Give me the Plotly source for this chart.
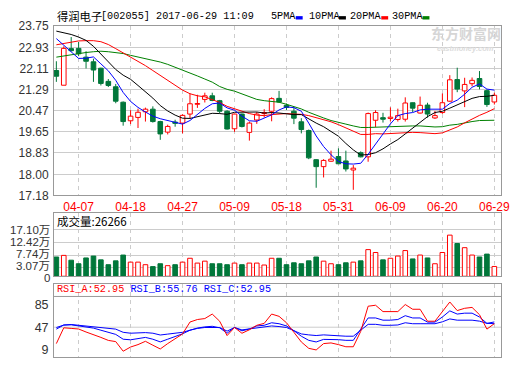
import plotly.graph_objects as go

# ---------------- data ----------------
tick_idx = [3, 10, 17, 24, 31, 38, 45, 52, 59]
tick_text = ["04-07", "04-18", "04-27", "05-09", "05-18", "05-31", "06-09", "06-20", "06-29"]

OPEN = [22.03, 21.46, 22.88, 22.89, 22.55, 22.37, 22.12, 21.61, 21.40, 20.80,
        20.08, 20.21, 20.43, 20.53, 20.05, 19.64, 20.03, 19.99, 20.34, 20.72,
        20.91, 21.05, 20.86, 20.45, 19.77, 20.34, 19.63, 20.11, 20.36, 20.45,
        20.95, 20.68, 20.45, 20.04, 19.70, 18.57, 18.30, 18.51, 18.69, 18.52,
        18.17, 18.84, 18.68, 20.10, 20.20, 20.17, 20.13, 20.14, 20.78, 20.38,
        20.69, 20.19, 20.40, 20.84, 21.68, 21.24, 21.52, 21.72, 21.25, 20.81]
HIGH = [22.39, 22.97, 23.33, 23.14, 22.78, 22.49, 22.14, 21.70, 21.51, 20.83,
        20.49, 20.55, 20.59, 20.64, 20.08, 19.93, 20.12, 20.33, 21.14, 21.09,
        21.17, 21.17, 20.89, 20.49, 20.36, 20.36, 20.05, 20.42, 20.53, 20.99,
        21.24, 20.75, 20.61, 20.18, 19.74, 18.59, 18.59, 18.92, 19.01, 18.92,
        18.36, 18.89, 20.40, 20.49, 20.39, 20.60, 20.55, 20.99, 20.79, 21.02,
        20.78, 20.46, 21.14, 21.85, 22.14, 21.75, 21.76, 22.01, 21.30, 21.17]
LOW = [21.59, 21.46, 22.77, 22.59, 22.11, 21.59, 21.45, 21.39, 20.76, 19.89,
       19.95, 19.80, 20.05, 20.01, 19.34, 19.55, 19.85, 19.59, 20.18, 20.58,
       20.79, 20.84, 20.36, 19.74, 19.65, 19.82, 19.31, 19.96, 20.21, 20.06,
       20.79, 20.50, 19.95, 19.59, 18.59, 17.48, 17.88, 18.49, 18.40, 18.11,
       17.40, 18.66, 18.49, 19.84, 20.01, 20.05, 20.05, 20.05, 20.42, 20.36,
       20.20, 20.15, 20.35, 20.82, 21.19, 20.61, 21.42, 21.30, 20.62, 20.71]
CLOSE = [21.81, 22.89, 22.80, 22.68, 22.39, 22.05, 21.53, 21.45, 20.84, 20.05,
         20.26, 20.41, 20.53, 20.05, 19.57, 19.86, 19.98, 20.29, 20.74, 20.75,
         21.05, 20.87, 20.45, 19.76, 20.34, 19.86, 19.99, 20.34, 20.40, 20.94,
         20.81, 20.60, 20.18, 19.74, 18.64, 18.30, 18.54, 18.59, 18.41, 18.21,
         18.24, 18.68, 20.36, 20.40, 20.14, 20.22, 20.28, 20.77, 20.57, 20.68,
         20.34, 20.28, 20.78, 21.67, 21.31, 21.49, 21.65, 21.41, 20.71, 21.07]

MA5 = [23.27, 23.02, 22.78, 22.50, 22.51, 22.56, 22.29, 22.02, 21.65, 21.18,
       20.83, 20.60, 20.42, 20.26, 20.16, 20.08, 20.00, 19.95, 20.09, 20.32,
       20.56, 20.74, 20.77, 20.58, 20.49, 20.26, 20.08, 20.06, 20.19, 20.31,
       20.50, 20.62, 20.59, 20.45, 19.99, 19.49, 19.08, 18.76, 18.50, 18.41,
       18.40, 18.43, 18.78, 19.18, 19.56, 19.96, 20.28, 20.36, 20.40, 20.50,
       20.53, 20.53, 20.53, 20.75, 20.88, 21.11, 21.38, 21.51, 21.31, 21.27]
MA10 = [23.56, 23.50, 23.43, 23.33, 23.20, 22.97, 22.68, 22.37, 22.07, 21.85,
        21.69, 21.45, 21.22, 20.96, 20.67, 20.46, 20.30, 20.18, 20.17, 20.24,
        20.32, 20.37, 20.36, 20.33, 20.41, 20.41, 20.41, 20.42, 20.38, 20.40,
        20.38, 20.35, 20.32, 20.32, 20.15, 19.99, 19.85, 19.67, 19.48, 19.20,
        18.95, 18.75, 18.77, 18.84, 18.99, 19.18, 19.35, 19.57, 19.79, 20.03,
        20.24, 20.40, 20.45, 20.57, 20.69, 20.82, 20.95, 21.02, 21.03, 21.07]
MA20 = [23.03, 23.08, 23.15, 23.18, 23.19, 23.19, 23.15, 23.04, 22.88, 22.72,
        22.57, 22.40, 22.22, 22.03, 21.84, 21.66, 21.47, 21.27, 21.13, 21.05,
        21.01, 20.91, 20.79, 20.64, 20.54, 20.43, 20.36, 20.30, 20.28, 20.32,
        20.35, 20.36, 20.34, 20.33, 20.28, 20.20, 20.13, 20.04, 19.93, 19.80,
        19.66, 19.55, 19.55, 19.58, 19.57, 19.59, 19.60, 19.62, 19.63, 19.62,
        19.59, 19.58, 19.61, 19.71, 19.84, 20.00, 20.15, 20.29, 20.41, 20.55]
MA30 = [22.55, 22.60, 22.65, 22.70, 22.73, 22.76, 22.78, 22.76, 22.73, 22.69,
        22.62, 22.56, 22.49, 22.43, 22.36, 22.27, 22.16, 22.07, 21.95, 21.82,
        21.70, 21.58, 21.41, 21.30, 21.23, 21.13, 21.02, 20.91, 20.86, 20.83,
        20.80, 20.72, 20.63, 20.54, 20.41, 20.29, 20.19, 20.09, 20.01, 19.95,
        19.88, 19.82, 19.82, 19.83, 19.85, 19.86, 19.87, 19.89, 19.88, 19.88,
        19.86, 19.84, 19.85, 19.91, 19.94, 20.00, 20.05, 20.09, 20.10, 20.10]

VOL = [7.08, 7.67, 5.90, 4.60, 6.73, 7.43, 6.02, 4.25, 5.66, 7.79,
       5.19, 5.19, 4.25, 3.54, 4.60, 3.89, 4.25, 5.19, 6.61, 4.84,
       5.55, 4.60, 4.60, 4.25, 4.84, 4.25, 4.84, 4.84, 4.13, 6.61,
       6.61, 4.25, 4.95, 4.60, 5.66, 7.08, 5.55, 4.60, 4.25, 4.95,
       5.19, 5.66, 9.79, 8.73, 6.02, 6.61, 7.43, 9.44, 6.37, 7.79,
       6.73, 4.60, 8.73, 15.11, 12.04, 10.50, 7.79, 7.08, 8.14, 3.60]

RSI_A = [19.7, 46, 45, 44, 39, 35, 30, 25, 23, 7, 14, 18, 23.5, 17, 10.7, 19.7, 27.8, 35.8,
         55.6, 59.8, 61.4, 68.9, 57, 33, 46.5, 36.9, 42.7, 50.2, 53.4, 68.9, 65.1, 54.4,
         38.5, 22.4, 11.8, 9.1, 19.7, 20.8, 18, 14.4, 14.4, 40, 82, 83.6, 73, 73, 73, 84.8,
         76.9, 76.9, 57, 57, 73, 89, 74.7, 78.5, 80, 67.8, 43.8, 52.95]
RSI_B = [43.8, 50.7, 51, 49.1, 48, 45.5, 42, 38.5, 35, 27, 26, 28, 30, 27, 22.5, 27, 31, 36,
         42, 45.5, 47.5, 48.5, 46, 37, 46.5, 41, 44, 49.1, 50.2, 54.4, 52.8, 49.1, 41.2, 32,
         25.1, 22.4, 26.7, 26.7, 26.2, 25.1, 25.1, 43.8, 62.4, 62.4, 58.7, 58.7, 59.8, 66.2,
         62.4, 62.4, 55.5, 55.5, 64, 74.2, 68.9, 70.4, 70.4, 64, 53.4, 55.76]
RSI_C = [46.5, 50.5, 51.5, 50.2, 49.5, 48.1, 46.5, 45, 43.8, 38.5, 37, 37.5, 38, 37, 34, 35.5,
         36.9, 38.5, 42, 45, 46.5, 47, 46.5, 40.5, 46.5, 42.5, 44, 44.9, 46.5, 49.1, 48.1, 46.5,
         41.2, 35.8, 34.2, 33.1, 34.2, 33.1, 33.1, 32, 32, 41.2, 51.8, 51.8, 50.2, 50.2, 50.7,
         54.4, 52.8, 52.8, 52.8, 52.8, 56, 60.8, 58.7, 58.7, 58.7, 57.1, 53.4, 52.95]

price_ticks = [17.18, 18.00, 18.83, 19.65, 20.47, 21.29, 22.11, 22.93, 23.75]
vol_ticks = [0, 3.07, 7.74, 12.42, 17.10]
vol_tick_text = ["0", "3.07万", "7.74万", "12.42万", "17.10万"]
rsi_ticks = [9, 47, 85]

ma_names = ["5PMA", "10PMA", "20PMA", "30PMA"]
ma_colors = ["#0000ff", "#000000", "#ff0000", "#008000"]

# ---------------- styling / layout helpers ----------------
W, H = 520, 365
RED = "#ff0000"
GRN = "#00773a"
GRID = "#cccccc"
FRAME = "#999999"


def py(p):
    return 1 - p / H


def pxf(p):
    return p / W


XR = [-0.31, 59.92]
XD = [pxf(55), pxf(510)]
idx = list(range(len(CLOSE)))
up = [c >= o for o, c in zip(OPEN, CLOSE)]

fig = go.Figure()

# wicks
for is_up, col in [(True, RED), (False, GRN)]:
    wx, wy = [], []
    for i in idx:
        if up[i] != is_up:
            continue
        top = max(OPEN[i], CLOSE[i])
        bot = min(OPEN[i], CLOSE[i])
        wx += [i, i, None, i, i, None]
        wy += [HIGH[i], top, None, bot, LOW[i], None]
    fig.add_trace(go.Scatter(x=wx, y=wy, mode="lines", line=dict(color=col, width=1),
                             hoverinfo="skip", xaxis="x", yaxis="y"))

# candle bodies
for is_up, fill, col in [(True, "white", RED), (False, GRN, GRN)]:
    xs = [i for i in idx if up[i] == is_up]
    fig.add_trace(go.Bar(
        x=xs,
        y=[max(abs(CLOSE[i] - OPEN[i]), 0.02) for i in xs],
        base=[min(OPEN[i], CLOSE[i]) for i in xs],
        width=0.62,
        marker=dict(color=fill, line=dict(color=col, width=1)),
        xaxis="x", yaxis="y"))

# moving averages (drawn 30 -> 5 so the short ones sit on top)
for ma, col in [(MA30, ma_colors[3]), (MA20, ma_colors[2]), (MA10, ma_colors[1]), (MA5, ma_colors[0])]:
    fig.add_trace(go.Scatter(x=idx, y=ma, mode="lines", line=dict(color=col, width=1),
                             xaxis="x", yaxis="y"))

# volume
for is_up, fill, col in [(True, "white", RED), (False, GRN, GRN)]:
    xs = [i for i in idx if up[i] == is_up]
    fig.add_trace(go.Bar(x=xs, y=[VOL[i] for i in xs], width=0.62,
                         marker=dict(color=fill, line=dict(color=col, width=1)),
                         xaxis="x2", yaxis="y2"))

# RSI
for r, col in [(RSI_C, "#0000ff"), (RSI_B, "#0000ff"), (RSI_A, RED)]:
    fig.add_trace(go.Scatter(x=idx, y=r, mode="lines", line=dict(color=col, width=1),
                             xaxis="x3", yaxis="y3"))

tickfont = dict(family="Liberation Sans, Noto Sans CJK SC", size=12, color="#333333")


def xax(anchor, labels):
    return dict(domain=XD, range=XR, anchor=anchor, tickvals=tick_idx, ticktext=tick_text,
                showticklabels=labels, tickfont=dict(family="Liberation Sans", size=12, color=RED),
                showgrid=True, gridcolor=GRID, gridwidth=1, griddash="4px,4px",
                showline=True, linecolor=FRAME, linewidth=1, mirror=True,
                zeroline=False, ticks="", fixedrange=True)


fig.update_layout(
    width=W, height=H, margin=dict(l=0, r=0, t=0, b=0),
    paper_bgcolor="white", plot_bgcolor="white",
    showlegend=False, barmode="overlay", bargap=0,
    xaxis=xax("y", True),
    xaxis2=xax("y2", False),
    xaxis3=xax("y3", False),
    yaxis=dict(domain=[py(196), py(20)], range=[17.18, 23.75], anchor="x",
               tickvals=price_ticks, ticktext=["%.2f" % v for v in price_ticks],
               tickfont=tickfont, showgrid=True, gridcolor=GRID, gridwidth=1,
               showline=True, linecolor=FRAME, linewidth=1, mirror=True,
               zeroline=False, ticks="", ticklabelstandoff=2, fixedrange=True),
    yaxis2=dict(domain=[py(280), py(214)], range=[0, 23.32], anchor="x2",
                tickvals=vol_ticks, showticklabels=False,
                showgrid=True, gridcolor=GRID, gridwidth=1,
                showline=True, linecolor=FRAME, linewidth=1, mirror=True,
                zeroline=False, ticks="", fixedrange=True),
    yaxis3=dict(domain=[py(364), py(288)], range=[-2.72, 119.07], anchor="x3",
                tickvals=rsi_ticks, ticktext=[str(v) for v in rsi_ticks],
                tickfont=dict(family="Liberation Sans", size=12.5, color="#333333"),
                showgrid=False,
                showline=True, linecolor=FRAME, linewidth=1, mirror=True,
                zeroline=False, ticks="", ticklabelstandoff=2, fixedrange=True),
)

# RSI header separator and 47 grid line
fig.add_shape(type="line", xref="paper", yref="paper", x0=XD[0], x1=XD[1], y0=py(301), y1=py(301),
              line=dict(color=FRAME, width=1))
fig.add_shape(type="line", xref="x3 domain", yref="y3", x0=0, x1=1, y0=47, y1=47,
              line=dict(color=GRID, width=1), layer="below")

# volume axis labels (placed as in the reference, tighter than the value scale)
vol_label_px = [282, 269.5, 257, 244.5, 231.5]
for txt, p in zip(vol_tick_text, vol_label_px):
    fig.add_annotation(x=pxf(53), y=py(p), text=txt, xref="paper", yref="paper", showarrow=False,
                       xanchor="right", yanchor="middle",
                       font=dict(family="Liberation Sans, Noto Sans CJK SC", size=11.5, color="#333333"))

mono = "Liberation Mono, DejaVu Sans Mono"
ann = dict(xref="paper", yref="paper", showarrow=False, xanchor="left", yanchor="middle")
# title
fig.add_annotation(x=pxf(56), y=py(9.5), text="得润电子",
                   font=dict(family="Noto Sans CJK SC", size=11.3, color="#000000"), **ann)
fig.add_annotation(x=pxf(101), y=py(9.5), text="[002055] 2017-06-29 11:09",
                   font=dict(family=mono, size=10.2, color="#000000"), **ann)
# MA legend: label text + small coloured bar
legend_x = [274, 312, 354, 397]
marker_x = [301, 345, 388, 430]
for name, col, lx, mx in zip(ma_names, ma_colors, legend_x, marker_x):
    fig.add_annotation(x=pxf(lx), y=py(9.5), text=name,
                       font=dict(family=mono, size=10.2, color="#000000"), **ann)
    fig.add_shape(type="rect", xref="paper", yref="paper", x0=pxf(mx), x1=pxf(mx + 7),
                  y0=py(13), y1=py(9.5), line=dict(width=0), fillcolor=col)
# panel headers
fig.add_annotation(x=pxf(56), y=py(223), text="成交量:26266",
                   font=dict(family="Noto Sans CJK SC", size=11.5, color="#000000"), **ann)
fig.add_annotation(x=pxf(56), y=py(294),
                   text=("<span style='color:#ff0000'>RSI_A:52.95</span> "
                         "<span style='color:#0000ff'>RSI_B:55.76</span> "
                         "<span style='color:#0000ff'>RSI_C:52.95</span>"),
                   font=dict(family=mono, size=10.2, color="#0000ff"), **ann)
# watermark
fig.add_annotation(x=pxf(474), y=py(27), text="<b>东方财富网</b>", xanchor="center",
                   font=dict(family="Noto Sans CJK SC", size=14, color="#d6d6d6"),
                   xref="paper", yref="paper", showarrow=False, yanchor="middle")
fig.add_annotation(x=pxf(474), y=py(43), text="<b><i>eastmoney.com</i></b>", xanchor="center",
                   font=dict(family="Liberation Sans", size=7.5, color="#dcdcdc"),
                   xref="paper", yref="paper", showarrow=False, yanchor="middle")

fig.write_html("out.html", config={"displayModeBar": False, "staticPlot": True},
               post_script="document.body.style.margin='0';document.body.style.padding='0';")
